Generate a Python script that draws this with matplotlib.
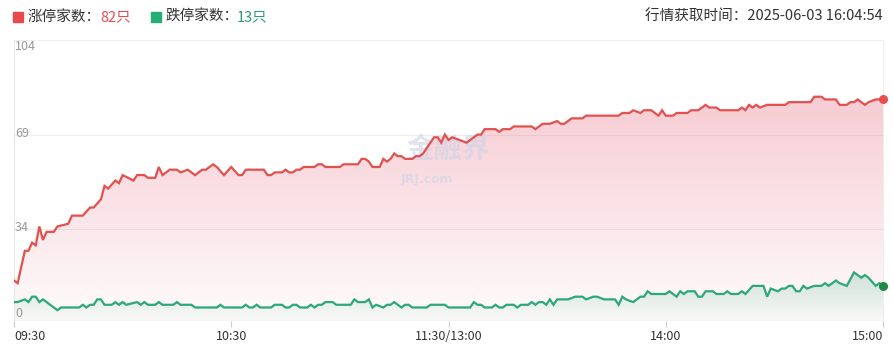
import numpy as np
import matplotlib
matplotlib.use("Agg")
import matplotlib.pyplot as plt
from matplotlib.lines import Line2D

plt.rcParams['font.family'] = ['Noto Sans CJK SC', 'DejaVu Sans']

# minutes since 09:30 (trading minutes, lunch break removed) and counts
up_t = [0, 1, 3, 4, 5, 6, 7, 8, 9, 11, 12, 15, 16, 19, 21, 22, 24, 25, 26, 28,
        29, 30, 33, 34, 36, 37, 39, 40, 41, 43, 45, 46, 48, 50, 52, 53, 55, 56, 58, 60,
        62, 63, 64, 69, 70, 71, 72, 74, 75, 76, 77, 78, 79, 80, 83, 84, 85, 86, 90, 91,
        95, 96, 97, 98, 99, 101, 102, 103, 104, 105, 106, 107, 108, 110, 111, 112, 113, 114, 116, 117,
        118, 119, 120, 121, 123, 125, 126, 128, 129, 130, 133, 134, 135, 137, 138, 143, 144, 146, 148, 150,
        151, 152, 154, 157, 158, 167, 168, 170, 171, 173, 174, 176, 178, 179, 180, 182, 183, 186, 187, 189,
        191, 192, 194, 195, 200, 201, 202, 203, 204, 205, 206, 208, 213, 214, 220, 221, 223, 224, 227, 228,
        230, 231, 232, 233, 234, 235, 236, 238, 240]
up_v = [15, 14, 26, 26, 29, 28, 35, 30, 33, 33, 35, 36, 39, 39, 42, 42, 45, 50, 49, 52,
        51, 54, 52, 54, 54, 53, 53, 57, 54, 56, 56, 55, 56, 54, 56, 56, 58, 57, 54, 57,
        54, 54, 56, 56, 54, 54, 55, 55, 56, 55, 55, 56, 56, 57, 57, 58, 58, 57, 57, 58,
        58, 60, 60, 59, 57, 57, 60, 59, 60, 62, 61, 61, 60, 60, 61, 61, 62, 64, 68, 68,
        66, 69, 67, 68, 67, 66, 67, 69, 69, 71, 71, 70, 71, 71, 72, 72, 71, 73, 73, 74,
        73, 73, 75, 75, 76, 76, 77, 77, 78, 77, 78, 78, 76, 78, 76, 76, 77, 77, 78, 78,
        80, 79, 79, 78, 78, 79, 78, 80, 79, 80, 79, 80, 80, 81, 81, 83, 83, 82, 82, 80,
        80, 81, 81, 82, 81, 80, 81, 82, 82]

down_t = [0, 1, 3, 4, 5, 6, 7, 8, 12, 13, 18, 19, 20, 21, 22, 23, 24, 25, 27, 28,
          29, 30, 31, 34, 35, 36, 37, 39, 40, 41, 44, 45, 46, 49, 50, 56, 57, 58, 63, 64,
          65, 66, 67, 68, 71, 72, 74, 75, 76, 77, 78, 79, 81, 82, 83, 84, 85, 86, 88, 89,
          93, 94, 95, 97, 98, 99, 100, 102, 103, 104, 105, 106, 107, 108, 109, 110, 114, 115, 119, 120,
          126, 127, 128, 129, 130, 132, 133, 134, 135, 136, 138, 139, 140, 142, 143, 144, 145, 146, 147, 148,
          149, 150, 153, 155, 157, 158, 160, 161, 163, 166, 167, 168, 169, 171, 173, 174, 175, 176, 180, 181,
          183, 184, 185, 186, 188, 189, 190, 191, 193, 194, 196, 197, 198, 200, 201, 202, 204, 207, 208, 209,
          211, 212, 213, 214, 215, 216, 217, 218, 219, 221, 223, 224, 225, 227, 228, 230, 232, 234, 235, 236,
          238, 239, 240]
down_v = [7, 7, 8, 7, 9, 9, 7, 8, 4, 5, 5, 6, 5, 6, 6, 8, 8, 6, 6, 7,
          6, 7, 6, 7, 6, 7, 6, 6, 7, 6, 6, 7, 6, 6, 5, 5, 6, 5, 5, 6,
          5, 5, 6, 5, 5, 6, 6, 5, 5, 6, 6, 5, 5, 6, 5, 6, 6, 7, 7, 6,
          6, 8, 7, 7, 8, 5, 6, 5, 6, 6, 7, 6, 5, 6, 6, 5, 5, 6, 6, 5,
          5, 7, 6, 6, 5, 5, 6, 5, 5, 6, 6, 5, 6, 6, 7, 6, 7, 7, 6, 8,
          6, 8, 8, 9, 9, 8, 9, 9, 8, 8, 6, 9, 8, 7, 9, 9, 11, 10, 10, 11,
          9, 11, 10, 11, 11, 9, 9, 11, 11, 10, 10, 11, 10, 10, 11, 10, 13, 13, 9, 12,
          11, 12, 12, 13, 13, 11, 11, 13, 12, 13, 13, 14, 13, 15, 14, 13, 18, 16, 17, 16,
          13, 14, 13]

y_ticks = [0, 34, 69, 104]
x_tick_pos = [0, 60, 120, 180, 240]
x_tick_labels = ['09:30', '10:30', '11:30/13:00', '14:00', '15:00']

W, H = 894, 356
fig = plt.figure(figsize=(W / 100, H / 100), dpi=100)
ax = fig.add_axes([14 / W, 1 - 321 / H, (883 - 14) / W, (321 - 40) / H])
ax.set_xlim(0, 240)
ax.set_ylim(0, 104)


def gradient_fill(ax, x, y, rgb, a_top, a_bot, z):
    poly = ax.fill_between(x, y, 0, facecolor='none', edgecolor='none')
    path = poly.get_paths()[0]
    top = max(y)
    grad = np.zeros((200, 1, 4))
    grad[..., 0], grad[..., 1], grad[..., 2] = rgb
    grad[..., 3] = np.linspace(a_bot, a_top, 200)[:, None]
    im = ax.imshow(grad, aspect='auto', origin='lower', extent=[x[0], x[-1], 0, top],
                   zorder=z, interpolation='bilinear')
    im.set_clip_path(path, transform=ax.transData)


for v in y_ticks:
    ax.axhline(v, color='#eeeeee', lw=0.8, zorder=0)

red = '#e4504e'
green = '#2ca879'
gradient_fill(ax, up_t, up_v, (0.89, 0.33, 0.42), 0.30, 0.02, 1)
gradient_fill(ax, down_t, down_v, (0.17, 0.66, 0.47), 0.22, 0.02, 2)

# watermark (behind the lines)
ax.text(120, 63.5, '金融界', fontsize=20, fontweight='bold', color='#cdd3e6', alpha=0.6,
        ha='center', va='center', zorder=3)
ax.text(114, 52.5, 'JRJ.com', fontsize=9, fontweight='bold', color='#cdd3e6', alpha=0.6,
        ha='center', va='center', zorder=3, family='DejaVu Sans')

ax.plot(up_t, up_v, color=red, lw=1.6, zorder=4, solid_joinstyle='miter')
ax.plot(down_t, down_v, color=green, lw=1.6, zorder=4, solid_joinstyle='miter')
ax.plot(up_t[-1], up_v[-1], 'o', ms=5.5, color='#ea4f4f', zorder=5, clip_on=False)
ax.plot(down_t[-1], down_v[-1], 'o', ms=5.5, color='#1f8a46', zorder=5, clip_on=False)
ax.set_xlim(0, 240)
ax.set_ylim(0, 104)

for s in ['top', 'bottom']:
    ax.spines[s].set_visible(False)
ax.spines['left'].set_color('#e6e6e6')
ax.spines['right'].set_color('#eeeeee')
ax.spines['left'].set_linewidth(0.8)
ax.spines['right'].set_linewidth(0.8)
ax.axhline(0, color='#dddddd', lw=0.9, zorder=3)
ax.set_yticks([])
ax.set_xticks(x_tick_pos)
ax.set_xticklabels([])
ax.tick_params(axis='x', length=4, color='#cccccc', width=0.8)

# y labels inside the plot
ax.text(0.3, 104, '104', ha='left', va='top', fontsize=9, color='#999999')
ax.text(0.3, 69.5, '69', ha='left', va='center', fontsize=9, color='#999999')
ax.text(0.3, 34.5, '34', ha='left', va='center', fontsize=9, color='#999999')
ax.text(0.3, 0.5, '0', ha='left', va='bottom', fontsize=9, color='#999999')

for p, lab in zip(x_tick_pos, x_tick_labels):
    ha = 'left' if p == 0 else ('right' if p == 240 else 'center')
    ax.text(p, -3.4, lab, ha=ha, va='top', fontsize=9, color='#333333')

# header
def px(x, y):
    return x / W, 1 - y / H

fig.add_artist(Line2D([px(18, 0)[0]], [px(0, 17)[1]], marker='s', ms=7, color='#e84a4b',
                      transform=fig.transFigure))
fig.add_artist(Line2D([px(156, 0)[0]], [px(0, 17)[1]], marker='s', ms=7, color='#26ad73',
                      transform=fig.transFigure))
fig.text(*px(28, 17), '涨停家数：', fontsize=10.5, color='#333333', va='center')
fig.text(*px(100, 17), '82只', fontsize=10.5, color='#e04f4f', va='center')
fig.text(*px(165, 17), '跌停家数：', fontsize=10.5, color='#333333', va='center')
fig.text(*px(237, 17), '13只', fontsize=10.5, color='#2a9d6e', va='center')
fig.text(*px(883, 17), '行情获取时间：2025-06-03 16:04:54', fontsize=10.5, color='#333333',
         va='center', ha='right')

fig.savefig('out.png', dpi=100)
